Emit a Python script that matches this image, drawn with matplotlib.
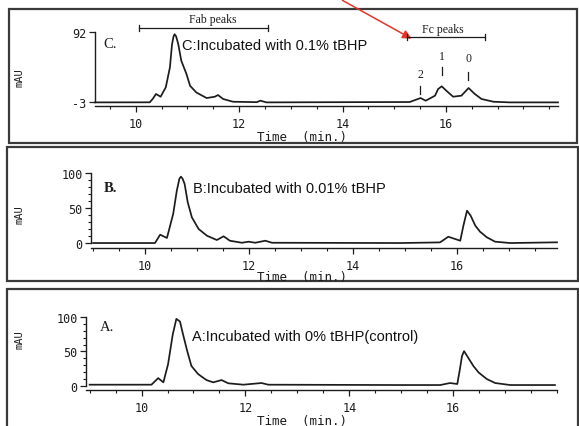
import numpy as np
import matplotlib.pyplot as plt
from matplotlib.patches import Rectangle, FancyArrowPatch
from matplotlib.lines import Line2D
from matplotlib.ticker import MultipleLocator

# Tracos dos cromatogramas (tempo em min, absorbancia em mAU)
t_c = [9.21, 10.27, 10.33, 10.39, 10.48, 10.58, 10.66, 10.70, 10.73, 10.75, 10.78,
       10.82, 10.88, 10.98, 11.05, 11.17, 11.37, 11.53, 11.59, 11.69, 11.88, 12.34,
       12.41, 12.53, 13.50, 15.30, 15.51, 15.61, 15.79, 15.85, 15.92, 16.01, 16.14,
       16.30, 16.44, 16.56, 16.69, 16.92, 17.24, 18.17]
y_c = [-3.5, -3.4, 1.5, 7.9, 4.2, 17, 44, 75, 86, 89, 86,
       76, 53, 35, 19, 10, 2.4, 4.2, 6.5, 1.1, -2.6, -3.2,
       -1.2, -3.5, -3.3, -3.0, 2.4, -1.2, 5.6, 14.6, 18.3, 12.3, 4.2,
       5.6, 16, 7.9, 1.1, -2.6, -3.5, -3.5]

t_b = [9.00, 10.19, 10.29, 10.42, 10.54, 10.61, 10.66, 10.69, 10.72, 10.76, 10.82,
       10.90, 11.03, 11.19, 11.38, 11.51, 11.63, 11.86, 11.99, 12.12, 12.31, 12.44,
       14.90, 15.67, 15.83, 16.06, 16.12, 16.19, 16.26, 16.35, 16.44, 16.57, 16.73,
       17.02, 17.92]
y_b = [0, 0, 11.9, 7.2, 41.5, 74.8, 92, 94.8, 92, 84.4, 58.1,
       36.6, 20, 10.4, 4.3, 9.6, 3.3, 0.4, 1.9, 0.4, 3.3, 0.4,
       0, 0.9, 9.0, 3.3, 24.7, 46.2, 39.0, 24.7, 16.2, 8.2, 1.9,
       0, 1]

t_a = [9.00, 10.19, 10.32, 10.42, 10.51, 10.60, 10.67, 10.74, 10.80, 10.88, 10.96,
       11.09, 11.25, 11.38, 11.54, 11.67, 11.96, 12.31, 12.44, 14.98, 15.75, 15.94,
       16.08, 16.13, 16.17, 16.21, 16.29, 16.39, 16.49, 16.65, 16.81, 17.10, 17.96]
y_a = [1.9, 1.9, 11.4, 5.3, 31.5, 74.4, 97.3, 93.4, 74.4, 50.5, 29,
       17.2, 8.6, 5.3, 8.6, 3.9, 1.9, 4.3, 1.9, 1.4, 1.4, 4.3,
       2.9, 24.3, 43.3, 50.5, 41.0, 29.0, 19.6, 10, 4.3, 1.4, 1.4]

x_ticks = [10, 12, 14, 16]
W, H = 579, 427
ink = '#1c1c1c'
mono = 'DejaVu Sans Mono'

fig = plt.figure(figsize=(W / 100, H / 100), dpi=100)
fig.patch.set_facecolor('white')


def px_axes(left, top, right, bottom):
    return fig.add_axes([left / W, 1 - bottom / H, (right - left) / W, (bottom - top) / H])


def ftext(x, y, s, **kw):
    fig.text(x / W, 1 - y / H, s, **kw)


def fline(xs, ys, lw=0.9):
    fig.add_artist(Line2D([v / W for v in xs], [1 - v / H for v in ys],
                          transform=fig.transFigure, color=ink, lw=lw))


def panel(box, rect, xlim, ylim, t, y, yticks, ylabels, ybounds, minor_y):
    x0, y0, x1, y1 = box
    fig.add_artist(Rectangle((x0 / W, 1 - y1 / H), (x1 - x0) / W, (y1 - y0) / H,
                             transform=fig.transFigure, fill=False, ec='#3a3a3a', lw=1.6))
    ax = px_axes(*rect)
    ax.patch.set_alpha(0)
    ax.plot(t, y, color=ink, lw=1.25, clip_on=False)
    ax.set_xlim(*xlim)
    ax.set_ylim(*ylim)
    for s in ['top', 'right']:
        ax.spines[s].set_visible(False)
    ax.spines['left'].set_bounds(*ybounds)
    for s in ['left', 'bottom']:
        ax.spines[s].set_color(ink)
        ax.spines[s].set_linewidth(1.0)
    ax.set_xticks(x_ticks)
    ax.set_xticklabels([str(v) for v in x_ticks])
    ax.xaxis.set_minor_locator(MultipleLocator(0.5))
    ax.set_yticks(yticks)
    ax.set_yticklabels(ylabels)
    if minor_y:
        ax.yaxis.set_minor_locator(MultipleLocator(10))
    ax.tick_params(axis='both', which='major', direction='out', length=4, width=0.9,
                   color=ink, labelsize=8.5, labelcolor=ink)
    ax.tick_params(axis='both', which='minor', direction='out', length=2, width=0.8, color=ink)
    ax.tick_params(axis='x', pad=4)
    ax.tick_params(axis='y', pad=2)
    for lab in ax.get_xticklabels() + ax.get_yticklabels():
        lab.set_family(mono)
    return ax


# Painel C
panel((9, 10, 577, 144), (95, 33, 558, 107), (9.21, 18.17), (-8.4, 92),
      t_c, y_c, [-3, 92], ['-3', '92'], (-3, 92), False)
# Painel B
panel((7, 148, 578, 282), (91, 174, 557, 249), (8.96, 17.92), (-7.1, 100),
      t_b, y_b, [0, 50, 100], ['0', '50', '100'], (0, 100), True)
# Painel A
panel((7, 290, 578, 445), (86, 318, 557, 391), (8.93, 18.00), (-5.8, 100),
      t_a, y_a, [0, 50, 100], ['0', '50', '100'], (0, 100), True)

# rotulos dos eixos
for ym in [78, 215, 340]:
    ftext(19, ym, 'mAU', family=mono, fontsize=7.5, rotation=90, ha='center', va='center', color=ink)
for yt in [138, 278, 422]:
    ftext(302, yt, 'Time  (min.)', family=mono, fontsize=9, ha='center', va='center', color=ink)

# letras dos paineis e condicoes
serif = 'Liberation Serif'
ftext(103, 45, 'C.', family=serif, fontsize=10.5, ha='left', va='center', color=ink)
ftext(104, 188, 'B.', family=serif, fontsize=10.5, fontweight='bold', ha='left', va='center', color=ink)
ftext(100, 328, 'A.', family=serif, fontsize=10.5, ha='left', va='center', color=ink)

sans = 'Liberation Sans'
ftext(182, 46, 'C:Incubated with 0.1% tBHP', family=sans, fontsize=10.5, ha='left', va='center', color='#111')
ftext(193, 189, 'B:Incubated with 0.01% tBHP', family=sans, fontsize=10.5, ha='left', va='center', color='#111')
ftext(192, 337, 'A:Incubated with 0% tBHP(control)', family=sans, fontsize=10.5, ha='left', va='center', color='#111')


# faixas Fab / Fc
def bracket(xa, xb, y):
    fline([xa, xb], [y, y])
    for xx in (xa, xb):
        fline([xx, xx], [y - 3, y + 3])


bracket(139, 268, 29)
ftext(213, 20, 'Fab peaks', family=serif, fontsize=8.5, ha='center', va='center', color=ink)
bracket(407, 485, 38)
ftext(443, 30, 'Fc peaks', family=serif, fontsize=8.5, ha='center', va='center', color=ink)

# numeracao dos picos Fc
for xp, yn, yb, s in [(420, 75, 91, '2'), (442, 57, 72, '1'), (468, 59, 77, '0')]:
    ftext(xp, yn, s, family=serif, fontsize=8.5, ha='center', va='center', color=ink)
    fline([xp, xp], [yb - 4, yb + 4], lw=0.9)

# seta vermelha
fig.add_artist(FancyArrowPatch((340 / W, 1.0), (414 / W, 1 - 41 / H), transform=fig.transFigure,
                               arrowstyle='-|>', mutation_scale=13, color='#e53528', lw=1.1))

fig.savefig('out.png', dpi=100)
